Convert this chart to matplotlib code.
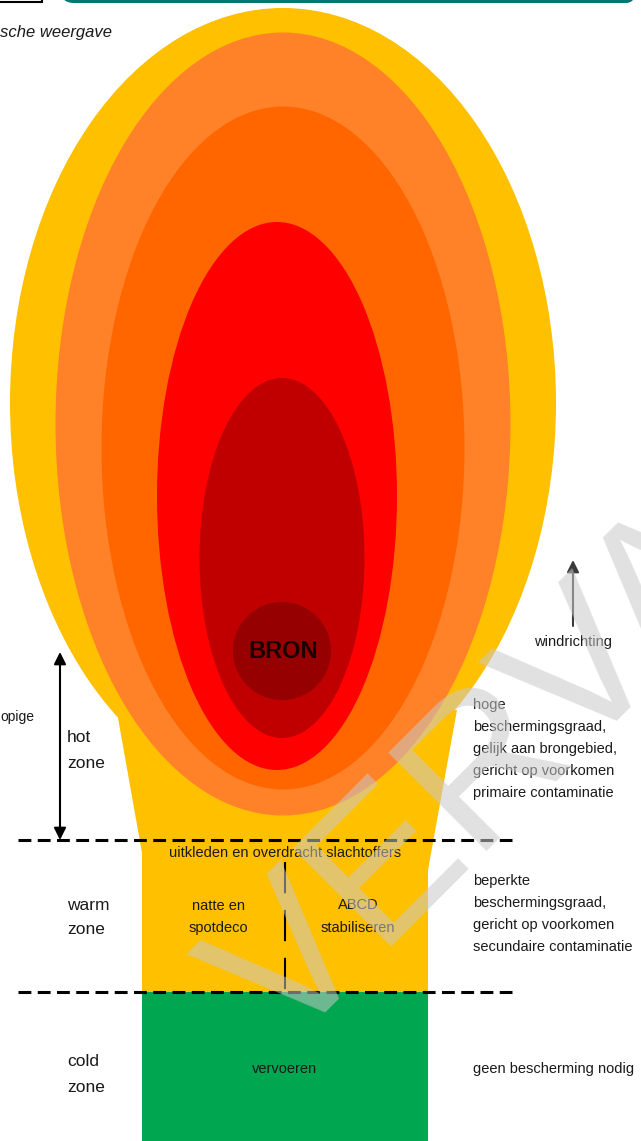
import numpy as np
import matplotlib
matplotlib.use('Agg')
import matplotlib.pyplot as plt
import matplotlib.patches as patches

plt.rcParams['font.family'] = ['Liberation Sans', 'DejaVu Sans']

# plume rings, outer to inner (pixel space of the page)
plume_colors = ['#FFC000', '#FF8229', '#FF6600', '#FF0000', '#C00000']
plume_cx = [283, 283, 283, 277, 282]
plume_cy = [403, 424, 448, 496, 558]
plume_w = [546, 455, 363, 240, 165]
plume_h = [790, 783, 683, 548, 360]

# stem under the plume, and the cold zone block
stem_x = [118, 142, 142, 428, 428, 457]
stem_y = [718, 853, 992, 992, 870, 710]
cold_box = (142, 992, 286, 149)

zone_names = [['hot', 'zone'], ['warm', 'zone'], ['cold', 'zone']]
zone_y = [738, 905, 1062]
zone_lines = [840, 992]

right_texts = [
    ['hoge', 'beschermingsgraad,', 'gelijk aan brongebied,',
     'gericht op voorkomen', 'primaire contaminatie'],
    ['beperkte', 'beschermingsgraad,', 'gericht op voorkomen',
     'secundaire contaminatie'],
    ['geen bescherming nodig'],
]
right_y = [705, 881, 1069]

warm_tasks = ['uitkleden en overdracht slachtoffers']
warm_left = ['natte en', 'spotdeco']
warm_right = ['ABCD', 'stabiliseren']
cold_task = 'vervoeren'

fig = plt.figure(figsize=(6.41, 11.41), dpi=100)
ax = fig.add_axes([0, 0, 1, 1])
ax.set_xlim(0, 641)
ax.set_ylim(1141, 0)
ax.axis('off')

# header remnants
ax.add_patch(patches.Rectangle((-10, -40), 52, 42, fill=False, ec='black', lw=1.5))
ax.add_patch(patches.FancyBboxPatch((62, -40), 576, 41.5,
                                    boxstyle='round,pad=0,rounding_size=12',
                                    fill=False, ec='#00786F', lw=2.2))
ax.text(0, 33, 'sche weergave', style='italic', fontsize=12, va='center', ha='left', color='#1a1a1a')

# outer plume + stem
ax.add_patch(patches.Ellipse((plume_cx[0], plume_cy[0]), plume_w[0], plume_h[0], color=plume_colors[0], lw=0))
ax.add_patch(patches.Polygon(np.column_stack([stem_x, stem_y]), closed=True, color=plume_colors[0], lw=0))
ax.add_patch(patches.Rectangle(cold_box[:2], cold_box[2], cold_box[3], color='#00A650', lw=0))
for c, cx, cy, w, h in list(zip(plume_colors, plume_cx, plume_cy, plume_w, plume_h))[1:]:
    ax.add_patch(patches.Ellipse((cx, cy), w, h, color=c, lw=0))

# source
ax.add_patch(patches.Circle((282, 651), 49, color='#960000', lw=0))
ax.text(283, 651, 'BRON', fontsize=17, fontweight='bold', ha='center', va='center', color='#1a0000')

# zone borders
for y in zone_lines:
    ax.plot([18, 512], [y, y], color='black', lw=2.2, linestyle=(0, (4.2, 2.1)))
ax.plot([285, 285], [862, 990], color='black', lw=1.5, linestyle=(0, (15, 8)))

# hot zone height arrow
ax.annotate('', xy=(60, 652), xytext=(60, 840),
            arrowprops=dict(arrowstyle='<|-|>', color='black', lw=1.5,
                            mutation_scale=18, shrinkA=0, shrinkB=0))
ax.text(0, 717, 'opige', fontsize=10, ha='left', va='center', color='#1a1a1a')

# wind direction
ax.annotate('', xy=(573, 560), xytext=(573, 626),
            arrowprops=dict(arrowstyle='-|>', color='#3a3a3a', lw=1.5,
                            mutation_scale=18, shrinkA=0, shrinkB=0))
ax.text(573, 642, 'windrichting', fontsize=10.5, ha='center', va='center', color='#1a1a1a')

# zone labels
for lines, y in zip(zone_names, zone_y):
    for k, s in enumerate(lines):
        ax.text(67, y + 25 * k, s, fontsize=12.5, ha='left', va='center', color='#1a1a1a')

# right-hand descriptions
for lines, y in zip(right_texts, right_y):
    for k, s in enumerate(lines):
        ax.text(473, y + 22 * k, s, fontsize=10.5, ha='left', va='center', color='#1a1a1a')

# tasks inside the zones
ax.text(285, 853, warm_tasks[0], fontsize=10.5, ha='center', va='center', color='#1a1a1a')
for k, s in enumerate(warm_left):
    ax.text(218, 906 + 22 * k, s, fontsize=10.5, ha='center', va='center', color='#1a1a1a')
for k, s in enumerate(warm_right):
    ax.text(358, 905 + 23 * k, s, fontsize=10.5, ha='center', va='center', color='#1a1a1a')
ax.text(285, 1069, cold_task, fontsize=10.5, ha='center', va='center', color='#1a1a1a')

# watermark
ax.text(284, 1053, 'VERVALLEN', fontsize=146, rotation=45, rotation_mode='anchor',
        ha='left', va='baseline', color='#C8C8C8', alpha=0.55, clip_on=True, zorder=10)

fig.savefig('out.png', dpi=100)
